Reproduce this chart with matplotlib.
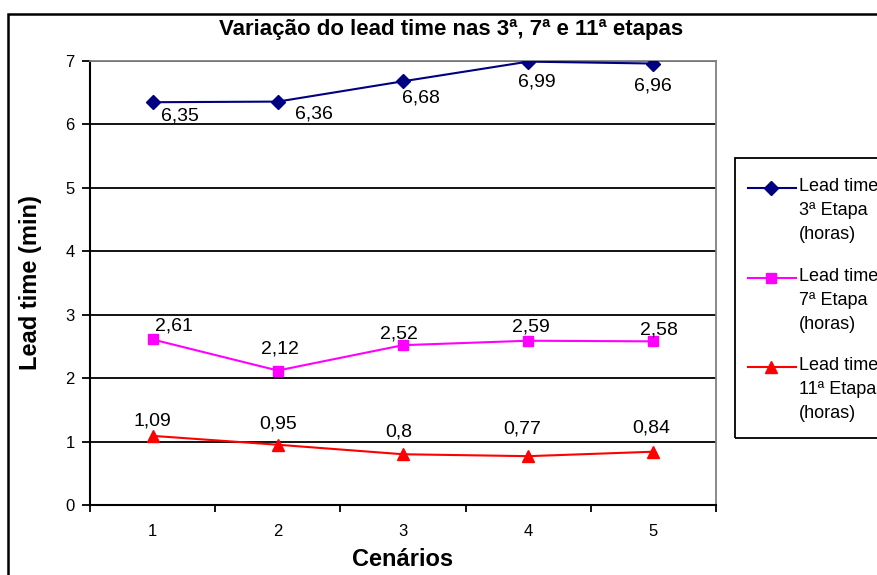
import matplotlib.pyplot as plt
from matplotlib.lines import Line2D
from matplotlib.patches import Rectangle

plt.rcParams['font.family'] = ['Liberation Sans', 'DejaVu Sans']

# dados
cenarios = [1, 2, 3, 4, 5]
etapa3 = [6.35, 6.36, 6.68, 6.99, 6.96]
etapa7 = [2.61, 2.12, 2.52, 2.59, 2.58]
etapa11 = [1.09, 0.95, 0.80, 0.77, 0.84]
nomes = ["Lead time\n3ª Etapa\n(horas)", "Lead time\n7ª Etapa\n(horas)", "Lead time\n11ª Etapa\n(horas)"]

# deslocamento dos rótulos (pixels), como no Excel
off3 = [(27, -14), (36, -12), (18, -17), (9, -20), (-1, -22)]
off7 = [(21, 13), (2, 22), (-4, 11), (3, 14), (6, 11)]
off11 = [(0, 15), (0, 21), (-4, 22), (-6, 27), (-2, 24)]

fig = plt.figure(figsize=(8.77, 5.75), dpi=100)
ax = fig.add_axes([90 / 877, 70 / 575, 626 / 877, 444 / 575])

series = [
    (etapa3, '#000080', 'D', 7, off3),
    (etapa7, '#FF00FF', 's', 7, off7),
    (etapa11, '#FF0000', '^', 8.5, off11),
]
for vals, cor, mk, ms, offs in series:
    ax.plot(cenarios, vals, color=cor, lw=1.5, marker=mk, ms=ms, zorder=3)
    for x, v, o in zip(cenarios, vals, offs):
        ax.annotate(f"{v:g}".replace('.', ','), (x, v), xytext=o, textcoords='offset pixels',
                    ha='center', va='center', fontsize=14, zorder=4)

ax.set_xlim(0.5, 5.5)
ax.set_ylim(0, 7)
ax.set_yticks(range(0, 8))
ax.yaxis.grid(True, color='black', lw=1.3)
ax.set_axisbelow(True)
ax.set_xticks([0.5 + i for i in range(6)])
ax.set_xticklabels([])
ax.set_xticks(cenarios, minor=True)
ax.set_xticklabels([str(c) for c in cenarios], minor=True)
ax.tick_params(axis='x', which='minor', length=0, pad=14, labelsize=12)
ax.tick_params(axis='x', which='major', length=5, width=1.3, direction='out')
ax.tick_params(axis='y', length=6, width=1.3, direction='out', labelsize=12, pad=5)
for s in ['left', 'bottom']:
    ax.spines[s].set_linewidth(1.5)
for s in ['top', 'right']:
    ax.spines[s].set_color('#808080')
    ax.spines[s].set_linewidth(1.3)

ax.set_xlabel("Cenários", fontsize=17, fontweight='bold')
ax.xaxis.set_label_coords(0.5, (505 - 559) / 444)
ax.xaxis.label.set_va('center')
ax.set_ylabel("Lead time (min)", fontsize=17, fontweight='bold')
ax.yaxis.set_label_coords((31 - 90) / 626, 0.5)
ax.yaxis.label.set_va('center')
fig.text(451 / 877, 1 - 35 / 575, "Variação do lead time nas 3ª, 7ª e 11ª etapas",
         ha='center', va='baseline', fontsize=16, fontweight='bold')

# moldura externa
fig.add_artist(Rectangle((8 / 877, -0.1), 1.2, 1 - 14 / 575 + 0.1, transform=fig.transFigure,
                         fill=False, ec='black', lw=1.8))

# legenda
fig.add_artist(Rectangle((735 / 877, 1 - 438 / 575), 0.3, 280 / 575, transform=fig.transFigure,
                         fill=False, ec='black', lw=1.3))
ys = [188, 278, 367]
for (vals, cor, mk, ms, offs), nome, y in zip(series, nomes, ys):
    yf = 1 - y / 575
    fig.add_artist(Line2D([748 / 877, 796 / 877], [yf, yf], transform=fig.transFigure,
                          color=cor, lw=1.5))
    fig.add_artist(Line2D([771 / 877], [yf], transform=fig.transFigure, color=cor,
                          marker=mk, ms=ms))
    fig.text(799 / 877, yf + 10 / 575, nome, ha='left', va='top', fontsize=13,
             linespacing=1.55, multialignment='left')

fig.savefig("out.png", dpi=100)
